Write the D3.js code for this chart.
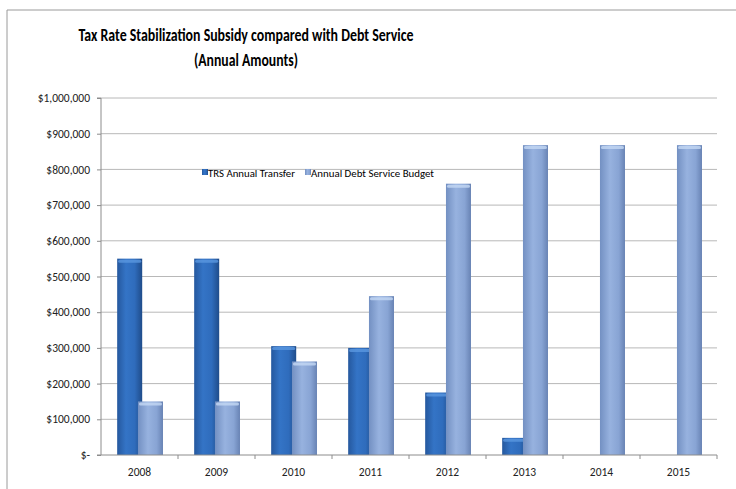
<!DOCTYPE html>
<html>
<head>
<meta charset="utf-8">
<script src="https://cdn.jsdelivr.net/npm/d3@7"></script>
<style>
  body { margin: 0; background: #fff; }
  text { font-family: "Carlito", "Lato", "Open Sans", sans-serif; fill: #000; }
</style>
</head>
<body>
<div id="chart"></div>
<script>
// chart values
var years = ["2008", "2009", "2010", "2011", "2012", "2013", "2014", "2015"];
var trsTransfer = [550000, 550000, 305000, 300000, 175000, 48000, 0, 0];
var debtService = [150000, 150000, 262000, 445000, 760000, 868000, 868000, 868000];
var seriesNames = ["TRS Annual Transfer", "Annual Debt Service Budget"];
var yTicks = [0, 100000, 200000, 300000, 400000, 500000, 600000, 700000, 800000, 900000, 1000000];

var svgWidth = 736;
var svgHeight = 489;

var margin = { top: 98, right: 19, bottom: 34, left: 101 };
var width = svgWidth - margin.left - margin.right;
var height = svgHeight - margin.top - margin.bottom;

var svg = d3.select("#chart")
  .append("svg")
  .attr("width", svgWidth)
  .attr("height", svgHeight);

// gradients for the glossy excel bars
var defs = svg.append("defs");
function barGradient(id, stops) {
  var g = defs.append("linearGradient").attr("id", id)
    .attr("x1", "0%").attr("x2", "100%").attr("y1", "0%").attr("y2", "0%");
  stops.forEach(function(s) {
    g.append("stop").attr("offset", s[0]).attr("stop-color", s[1]);
  });
}
barGradient("darkGrad", [["0%", "#25589e"], ["35%", "#3474c6"], ["70%", "#2f6cbc"], ["100%", "#1f4c8a"]]);
barGradient("lightGrad", [["0%", "#7390c2"], ["40%", "#97b2df"], ["75%", "#88a4d4"], ["100%", "#6883b4"]]);

// outer chart frame
svg.append("path")
  .attr("d", "M7,489 L7,10 L736,10")
  .attr("fill", "none")
  .attr("stroke", "#9a9a9a")
  .attr("stroke-width", 1);

// title
svg.append("text")
  .attr("x", 246).attr("y", 41)
  .attr("text-anchor", "middle")
  .attr("font-size", "17px")
  .attr("font-weight", "bold")
  .attr("textLength", 335)
  .attr("lengthAdjust", "spacingAndGlyphs")
  .text("Tax Rate Stabilization Subsidy compared with Debt Service");

svg.append("text")
  .attr("x", 246).attr("y", 66)
  .attr("text-anchor", "middle")
  .attr("font-size", "17px")
  .attr("font-weight", "bold")
  .attr("textLength", 104)
  .attr("lengthAdjust", "spacingAndGlyphs")
  .text("(Annual Amounts)");

var chartGroup = svg.append("g")
  .attr("transform", `translate(${margin.left}, ${margin.top})`);

var xScale = d3.scaleBand()
  .domain(years)
  .range([0, width]);

// two slightly overlapping bars per year, as excel draws them
var barWidth = xScale.bandwidth() * 0.325;
var barOffset = [-0.29, -0.02].map(f => xScale.bandwidth() / 2 + f * xScale.bandwidth());

var yScale = d3.scaleLinear()
  .domain([0, 1000000])
  .range([height, 0]);

// gridlines
chartGroup.append("g")
  .selectAll("line")
  .data(yTicks.slice(1))
  .enter()
  .append("line")
  .attr("x1", 0).attr("x2", width)
  .attr("y1", d => yScale(d)).attr("y2", d => yScale(d))
  .attr("stroke", "#b8b8b8")
  .attr("stroke-width", 1);

// y axis
var leftAxis = d3.axisLeft(yScale)
  .tickValues(yTicks)
  .tickSize(4)
  .tickPadding(7)
  .tickFormat(d => d === 0 ? "$-" : "$" + d3.format(",")(d));

var yAxisG = chartGroup.append("g").call(leftAxis);
yAxisG.select(".domain").attr("stroke", "#8c8c8c").attr("d", `M-4,${height}H0V0H-4`);
yAxisG.selectAll(".tick line").attr("stroke", "#8c8c8c");
yAxisG.selectAll("text").attr("font-size", "11.5px").attr("font-family", null).style("fill", "#222");

// bars
var rows = years.map((y, i) => ({ year: y, values: [trsTransfer[i], debtService[i]] }));
var fills = ["url(#darkGrad)", "url(#lightGrad)"];
var caps = ["#5a97e0", "#c4d8f4"];

var groups = chartGroup.selectAll(".yearGroup")
  .data(rows)
  .enter()
  .append("g")
  .attr("class", "yearGroup")
  .attr("transform", d => `translate(${xScale(d.year)}, 0)`);

var bars = groups.selectAll("g.bar")
  .data(d => d.values.map((v, k) => ({ k: k, v: v })).filter(e => e.v > 0))
  .enter()
  .append("g")
  .attr("class", "bar");

bars.append("rect")
  .attr("x", d => barOffset[d.k])
  .attr("y", d => yScale(d.v))
  .attr("width", barWidth)
  .attr("height", d => height - yScale(d.v))
  .attr("fill", d => fills[d.k]);

// light top cap
bars.append("rect")
  .attr("x", d => barOffset[d.k] + 1)
  .attr("y", d => yScale(d.v) + 1)
  .attr("width", barWidth - 2)
  .attr("height", 3)
  .attr("rx", 1.5)
  .attr("fill", d => caps[d.k])
  .attr("opacity", 0.8);

// x axis
var bottomAxis = d3.axisBottom(xScale).tickSize(0).tickPadding(13);
var xAxisG = chartGroup.append("g")
  .attr("transform", `translate(0, ${height})`)
  .call(bottomAxis);
xAxisG.select(".domain").attr("stroke", "#8c8c8c").attr("d", `M0,0H${width}`);
xAxisG.selectAll("text").attr("font-size", "11.5px").attr("font-family", null).style("fill", "#222");

chartGroup.append("g")
  .selectAll("line")
  .data(years)
  .enter()
  .append("line")
  .attr("x1", d => xScale(d) + xScale.bandwidth()).attr("x2", d => xScale(d) + xScale.bandwidth())
  .attr("y1", height).attr("y2", height + 4)
  .attr("stroke", "#8c8c8c");

// legend
var legend = svg.append("g").attr("transform", "translate(202, 169)");
var legendX = [0, 103];
var legendLen = [87, 123];
seriesNames.forEach(function(name, k) {
  var item = legend.append("g").attr("transform", `translate(${legendX[k]}, 0)`);
  item.append("rect")
    .attr("width", 6).attr("height", 6)
    .attr("fill", fills[k]);
  item.append("text")
    .attr("x", 6).attr("y", 7.5)
    .attr("font-size", "11px")
    .attr("textLength", legendLen[k])
    .attr("lengthAdjust", "spacingAndGlyphs")
    .text(name);
});
</script>
</body>
</html>
